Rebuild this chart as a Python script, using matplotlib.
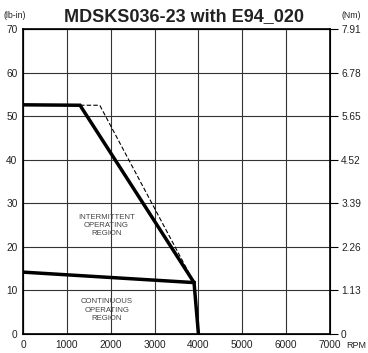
import matplotlib.pyplot as plt

# torque curve data (rpm, lb-in)
peak_rpm = [0, 1300, 3900, 4000]
peak_torque = [52.6, 52.5, 11.8, 0]
cont_rpm = [0, 3900]
cont_torque = [14.2, 11.8]
dash_rpm = [1300, 1750, 3900]
dash_torque = [52.5, 52.5, 11.8]

x_ticks = [0, 1000, 2000, 3000, 4000, 5000, 6000, 7000]
y_ticks = [0, 10, 20, 30, 40, 50, 60, 70]
nm_labels = ["0", "1.13", "2.26", "3.39", "4.52", "5.65", "6.78", "7.91"]

plt.rcParams['font.family'] = ['Liberation Sans', 'DejaVu Sans']

fig = plt.figure(figsize=(3.68, 3.53), dpi=100)
ax = fig.add_axes([23/368, 1 - 334/353, 307/368, 305/353])

ax.plot(peak_rpm, peak_torque, color='black', lw=2.5, solid_joinstyle='miter', zorder=3)
ax.plot(cont_rpm, cont_torque, color='black', lw=2.5, zorder=3)
ax.plot(dash_rpm, dash_torque, color='black', lw=0.8, ls=(0, (4, 2)), zorder=3)

ax.set_xlim(0, 7000)
ax.set_ylim(0, 70)
ax.set_xticks(x_ticks)
ax.set_yticks(y_ticks)
ax.grid(True, color='#333333', lw=0.8)
ax.tick_params(length=0, labelsize=7.3, pad=4, labelcolor='#222222')
for s in ax.spines.values():
    s.set_linewidth(1.2)

ax2 = ax.twinx()
ax2.set_ylim(0, 70)
ax2.set_yticks(y_ticks)
ax2.set_yticklabels(nm_labels)
ax2.tick_params(length=6, width=0.8, labelsize=7.3, pad=2, labelcolor='#222222')

ax.text(1900, 24.9, "INTERMITTENT\nOPERATING\nREGION", ha='center', va='center',
        fontsize=5.6, linespacing=1.25, color='#444444')
ax.text(1915, 5.5, "CONTINUOUS\nOPERATING\nREGION", ha='center', va='center',
        fontsize=5.6, linespacing=1.25, color='#444444')

fig.text(184/368, 1 - 17/353, "MDSKS036-23 with E94_020", ha='center', va='center',
         fontsize=13, fontweight='bold', color='#222222')
fig.text(3/368, 1 - 15/353, "(lb-in)", ha='left', va='center', fontsize=6.3, color='#222222')
fig.text(342/368, 1 - 15/353, "(Nm)", ha='left', va='center', fontsize=6.3, color='#222222')
fig.text(346/368, 1 - 346/353, "RPM", ha='left', va='center', fontsize=6.5, color='#222222')

fig.savefig("out.png", dpi=100)
